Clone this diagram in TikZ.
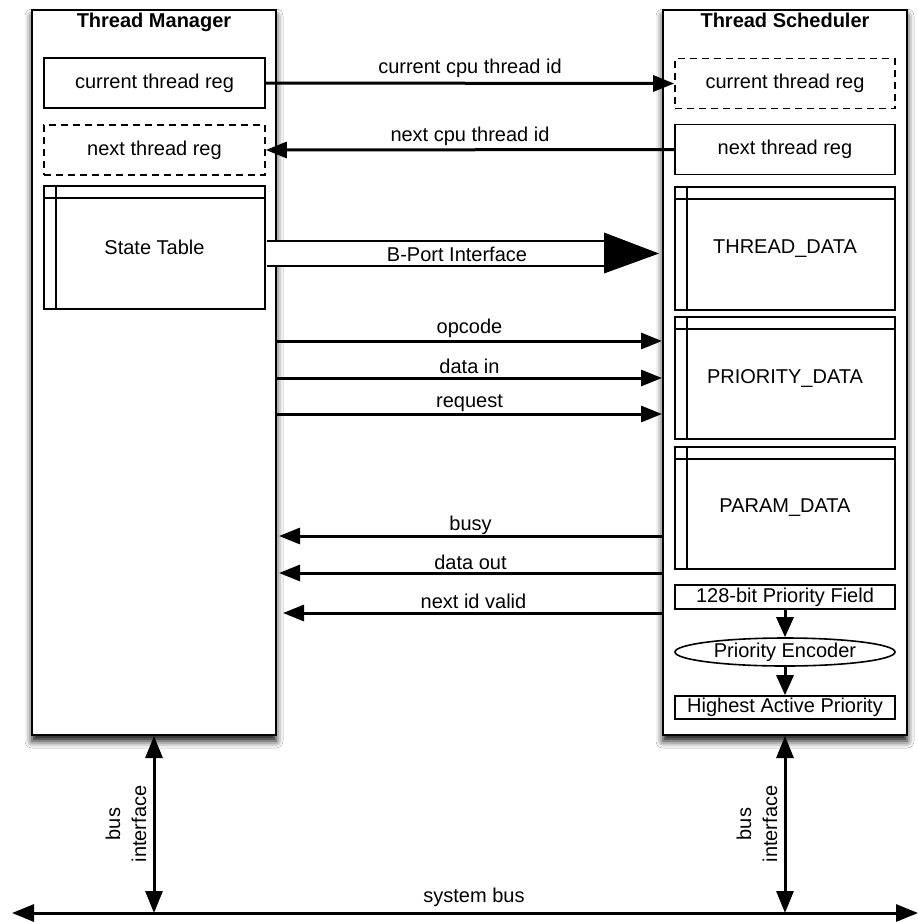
\documentclass[tikz,border=0pt]{standalone}
\usepackage{fontspec}
\setmainfont{Liberation Sans}
\usetikzlibrary{arrows.meta,shapes.geometric,shadows.blur}
\begin{document}
\begin{tikzpicture}[x=1pt,y=-1pt,
  font=\fontsize{20}{26}\selectfont,
  every node/.style={inner sep=0pt},
  unit/.style={draw, line width=2pt, fill=white, minimum width=244pt, minimum height=725pt,
    blur shadow={shadow xshift=0pt, shadow yshift=-6pt, shadow blur radius=7pt, shadow opacity=95}},
  title/.style={font=\fontsize{20}{24}\selectfont\bfseries, anchor=base},
  reg/.style={draw, line width=1.6pt, minimum width=221pt, minimum height=50pt},
  dreg/.style={reg, dash pattern=on 7pt off 5pt},
  tablebox/.style={reg, minimum height=123pt,
    path picture={\draw[line width=1.6pt]
      ([yshift=-12pt]path picture bounding box.north west) -- ([yshift=-12pt]path picture bounding box.north east)
      ([xshift=12pt]path picture bounding box.north west) -- ([xshift=12pt]path picture bounding box.south west);}},
  field/.style={draw, line width=1.6pt, minimum width=220pt},
  sig/.style={line width=3pt, -{Triangle[length=21pt,width=16pt]}},
  bus/.style={line width=3pt, {Triangle[length=22pt,width=17pt]}-{Triangle[length=22pt,width=17pt]}},
  lbl/.style={midway, anchor=base, yshift=#1},
  lbl/.default=7pt
]
% canvas
\fill[white] (0,0) rectangle (918,922);
\useasboundingbox (0,0) rectangle (918,922);

% the two units
\node[unit] (TM) at (154,372.5) {};
\node[unit] (TS) at (785,372.5) {};
\node[title] (TMt) at (154,27) {Thread Manager};
\node[title] (TSt) at (785,27) {Thread Scheduler};

% thread manager contents
\node[reg]      (tmcur)  at (154.5,83)    {current thread reg};
\node[dreg]     (tmnext) at (154.5,150)   {next thread reg};
\node[tablebox] (st)     at (154.5,247.5) {State Table};

% thread scheduler contents
\node[dreg, minimum width=220pt]     (tscur)  at (785,83.5)  {current thread reg};
\node[reg, minimum width=220pt]      (tsnext) at (785,149.5) {next thread reg};
\node[tablebox, minimum width=220pt] (td)     at (785,248.5) {THREAD\_DATA};
\node[tablebox, minimum width=220pt, minimum height=122pt] (pd)  at (785,378) {PRIORITY\_DATA};
\node[tablebox, minimum width=220pt, minimum height=122pt] (pmd) at (785,508) {PARAM\_DATA};
\node[field, minimum height=24pt] (pf) at (785,597) {128-bit Priority Field};
\node[field, ellipse, minimum height=28pt, inner sep=0pt] (pe) at (785,652) {Priority Encoder};
\node[field, minimum height=23pt] (hap) at (785,707.5) {Highest Active Priority};
\draw[line width=3pt, -{Triangle[length=20pt,width=17pt]}] (pf) -- (pe);
\draw[line width=3pt, -{Triangle[length=20pt,width=17pt]}] (pe) -- (hap);

% register transfer
\draw[sig] (tmcur.east) -- node[lbl=10pt] {current cpu thread id} (tscur.west);
\draw[sig] (tsnext.west) -- node[lbl=8pt] {next cpu thread id} (tmnext.east);

% B-port interface (double line with a wide head)
\coordinate (bpS) at ([xshift=0.8pt]st.east |- 0,253.5);
\coordinate (bpT) at (659,253.5);
\coordinate (bpH) at (604,253.5);
\draw[line width=2.5pt, double=white, double distance=22.5pt] (bpS) -- (bpH);
\fill (bpT) -- (604,232.5) -- (604,273.5) -- cycle;
\node[anchor=base] (bpl) at (457,261) {B-Port Interface};

% control and data signals
\coordinate (o1) at (TM.east |- 0,341);
\coordinate (o2) at (TS.west |- 0,341);
\coordinate (d1) at (TM.east |- 0,378);
\coordinate (d2) at (TS.west |- 0,378);
\coordinate (r1) at (TM.east |- 0,414);
\coordinate (r2) at (TS.west |- 0,414);
\draw[sig] (o1) -- node[lbl=8pt] {opcode} (o2);
\draw[sig] (d1) -- node[lbl=5pt] {data in} (d2);
\draw[sig] (r1) -- node[lbl=7pt] {request} (r2);

\coordinate (b1) at (TS.west |- 0,536);
\coordinate (b2) at ([xshift=2pt]TM.east |- 0,536);
\coordinate (q1) at (TS.west |- 0,573);
\coordinate (q2) at ([xshift=2pt]TM.east |- 0,573);
\coordinate (n1) at ([xshift=2pt]TS.west |- 0,613);
\coordinate (n2) at ([xshift=6pt]TM.east |- 0,613);
\draw[sig] (b1) -- node[lbl=6pt] {busy} (b2);
\draw[sig] (q1) -- node[lbl=4pt] {data out} (q2);
\draw[sig] (n1) -- node[lbl=5pt] {next id valid} (n2);

% system bus
\coordinate (sbL) at (12,913);
\coordinate (sbR) at (918,913);
\draw[bus] (sbL) -- node[midway, anchor=base, yshift=11pt, xshift=9pt] (sbl) {system bus} (sbR);
\coordinate (tmb) at (TM.south |- sbL);
\coordinate (tsb) at (TS.south |- sbL);
\draw[bus] (TM.south) -- (tmb);
\draw[bus] (TS.south) -- (tsb);
\node[rotate=90, align=center] (tmbi) at (126,824) {bus\\interface};
\node[rotate=90, align=center] (tsbi) at (757,824) {bus\\interface};
\end{tikzpicture}
\end{document}
